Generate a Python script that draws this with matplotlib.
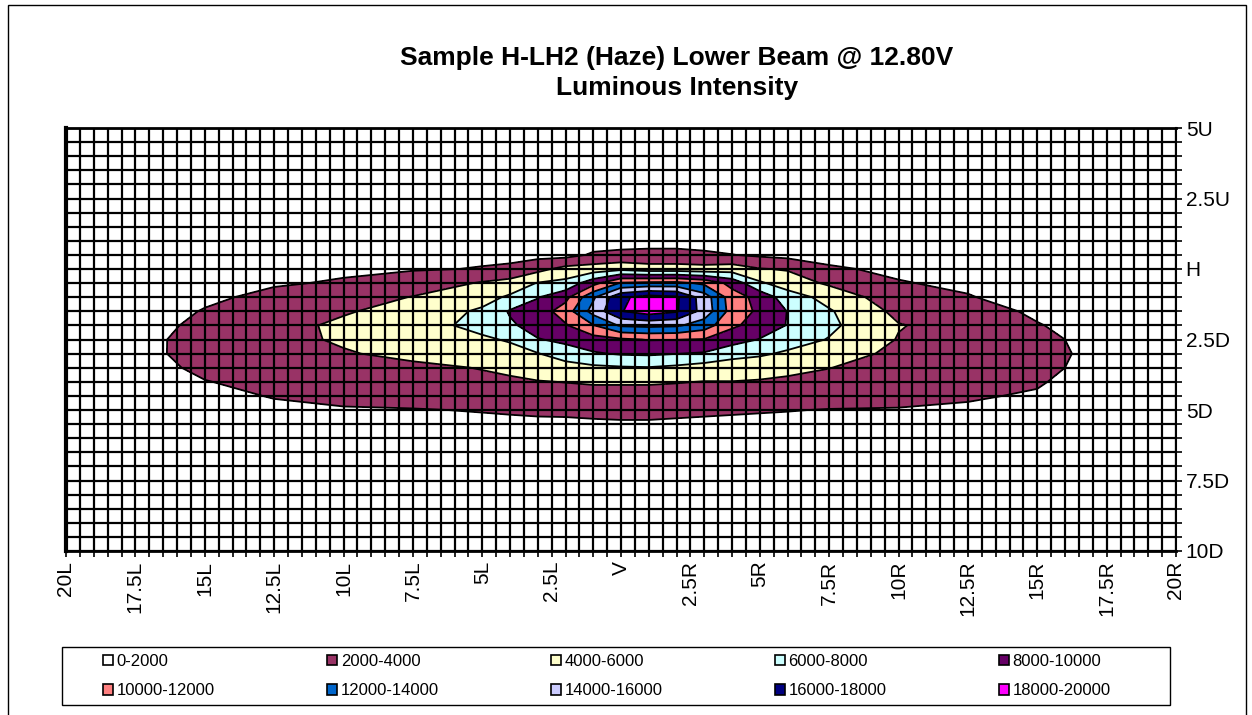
import matplotlib

matplotlib.use("Agg")
import matplotlib.pyplot as plt
import numpy as np
from matplotlib.patches import Patch, Rectangle

plt.rcParams["font.family"] = ["Liberation Sans", "DejaVu Sans"]

# horizontal angle (L negative, R positive) and vertical angle (U positive, D negative)
H_DEG = [-20, -17.5, -15, -12.5, -10, -7.5, -5, -4, -3, -2, -1, 0, 1, 2, 3, 4, 5, 6, 7.5, 10, 12.5, 15, 17.5, 20]
V_DEG = [5, 2.5, 1, 0.5, 0, -0.5, -1, -1.5, -2, -2.5, -3, -3.5, -4, -4.5, -5, -6, -7.5, -10]

# candela, one list per horizontal angle, read from 5U down to 10D
CANDELA_BY_H = [
    [100, 200, 300, 350, 400, 500, 600, 700, 800, 850, 900, 850, 800, 700, 600, 450, 300, 150],  # 20L
    [150, 300, 450, 550, 650, 800, 950, 1100, 1300, 1450, 1500, 1400, 1250, 1050, 900, 650, 400, 200],  # 17.5L
    [200, 500, 800, 1000, 1200, 1400, 1700, 2100, 2400, 2650, 2600, 2300, 1950, 1600, 1300, 900, 500, 250],  # 15L
    [300, 700, 1200, 1400, 1650, 1850, 2400, 2900, 3300, 3300, 3100, 2800, 2400, 2080, 1700, 1100, 600, 300],  # 12.5L
    [350, 800, 1300, 1550, 1750, 2150, 2800, 3800, 4400, 4300, 3800, 3200, 2700, 2300, 1900, 1300, 700, 350],  # 10L
    [400, 900, 1400, 1650, 1900, 2700, 4100, 4800, 5150, 5000, 4600, 3500, 2900, 2400, 1950, 1400, 750, 400],  # 7.5L
    [450, 1000, 1500, 1800, 2050, 4200, 5300, 6300, 6600, 5700, 5000, 4100, 3500, 2900, 2050, 1500, 800, 450],  # 5L
    [500, 1000, 1450, 1700, 2200, 4800, 6300, 8200, 7700, 6200, 5300, 4400, 3700, 3000, 2100, 1500, 850, 500],  # 4L
    [500, 1000, 1300, 1400, 3400, 6100, 7900, 8900, 8800, 7900, 5900, 5000, 3900, 3100, 2150, 1500, 900, 500],  # 3L
    [500, 1000, 1200, 1350, 4650, 6550, 9400, 11000, 9800, 8400, 7200, 5000, 4050, 3200, 2200, 1400, 950, 500],  # 2L
    [500, 1000, 1100, 2250, 4900, 9300, 13700, 14750, 11900, 9200, 7800, 5600, 4200, 3300, 2250, 1450, 1000, 550],  # 1L
    [500, 1000, 1500, 2300, 5500, 12200, 17600, 17900, 14300, 9700, 8200, 5800, 4200, 3300, 2300, 1450, 1000, 550],  # V
    [500, 1000, 1500, 2400, 4900, 12500, 18800, 19000, 14500, 10100, 8300, 5900, 4200, 3300, 2300, 1450, 1000, 550],  # 1R
    [500, 1000, 1500, 2400, 4900, 12600, 18300, 18200, 14300, 10050, 8050, 5600, 4100, 3200, 2250, 1400, 950, 550],  # 2R
    [450, 950, 1300, 2300, 4700, 11600, 15000, 15200, 13000, 9900, 7800, 5100, 3950, 3100, 2200, 1350, 900, 500],  # 3R
    [450, 900, 1000, 2050, 5000, 9300, 11000, 11200, 10300, 9000, 6500, 5250, 3950, 3050, 2150, 1300, 850, 500],  # 4R
    [400, 850, 1000, 1700, 4100, 6300, 9300, 9600, 9300, 7900, 6300, 4800, 3850, 2900, 2100, 1250, 800, 450],  # 5R
    [400, 800, 900, 1400, 3850, 5000, 7000, 7950, 7900, 6900, 5700, 4600, 3600, 2800, 2050, 1200, 750, 450],  # 6R
    [350, 700, 1000, 1500, 2200, 3700, 5300, 6200, 6400, 5900, 5000, 4050, 3300, 2600, 1950, 1150, 700, 400],  # 7.5R
    [300, 600, 1000, 1300, 1700, 2100, 2800, 3500, 4100, 3900, 3500, 3000, 2600, 2250, 1950, 1100, 650, 350],  # 10R
    [250, 450, 800, 1000, 1300, 1700, 2100, 2800, 3300, 3300, 3100, 2800, 2450, 2150, 1800, 1000, 600, 300],  # 12.5R
    [200, 300, 550, 650, 800, 1000, 1300, 1700, 2100, 2500, 2700, 2500, 2150, 1850, 1500, 900, 500, 250],  # 15R
    [150, 250, 400, 500, 600, 700, 850, 1000, 1150, 1250, 1300, 1250, 1150, 1000, 900, 650, 400, 200],  # 17.5R
    [100, 200, 300, 350, 400, 500, 600, 700, 800, 850, 900, 850, 800, 700, 600, 450, 300, 150],  # 20R
]

BAND_EDGES = [0, 2000, 4000, 6000, 8000, 10000, 12000, 14000, 16000, 18000, 20000]
BAND_LABELS = [
    "0-2000", "2000-4000", "4000-6000", "6000-8000", "8000-10000",
    "10000-12000", "12000-14000", "14000-16000", "16000-18000", "18000-20000",
]
BAND_COLORS = [
    "#FFFFFF", "#993366", "#FFFFCC", "#CCFFFF", "#660066",
    "#FF8080", "#0066CC", "#CCCCFF", "#000080", "#FF00FF",
]

X_TICKS = [-20, -17.5, -15, -12.5, -10, -7.5, -5, -2.5, 0, 2.5, 5, 7.5, 10, 12.5, 15, 17.5, 20]
X_LABELS = ["20L", "17.5L", "15L", "12.5L", "10L", "7.5L", "5L", "2.5L", "V",
            "2.5R", "5R", "7.5R", "10R", "12.5R", "15R", "17.5R", "20R"]
Y_TICKS = [5, 2.5, 0, -2.5, -5, -7.5, -10]
Y_LABELS = ["5U", "2.5U", "H", "2.5D", "5D", "7.5D", "10D"]

W, H = 1252, 715
fig = plt.figure(figsize=(W / 100, H / 100), dpi=100)
ax = fig.add_axes([66 / W, 1 - 551 / H, 1110 / W, 423 / H])

cd = np.array(CANDELA_BY_H).T
ax.contourf(H_DEG, V_DEG, cd, levels=BAND_EDGES, colors=BAND_COLORS, zorder=1)
ax.contour(H_DEG, V_DEG, cd, levels=BAND_EDGES[1:-1], colors="black", linewidths=1.3, zorder=2)

ax.set_xlim(-20, 20)
ax.set_ylim(-10, 5)
ax.set_xticks(X_TICKS)
ax.set_xticklabels(X_LABELS, rotation=90, fontsize=15)
ax.set_xticks(np.arange(-20, 20.01, 0.5), minor=True)
ax.yaxis.tick_right()
ax.set_yticks(Y_TICKS)
ax.set_yticklabels(Y_LABELS, fontsize=15)
ax.set_yticks(np.arange(-10, 5.01, 0.5), minor=True)
ax.tick_params(which="both", direction="out", length=4, width=1.2, color="black", pad=3)
ax.tick_params(axis="x", which="both", bottom=True, top=False)
ax.tick_params(axis="y", which="both", right=True, left=False)

ax.set_axisbelow(False)
ax.grid(True, which="both", color="black", linewidth=1.6)
for side, lw in (("left", 3.0), ("top", 2.0), ("right", 1.5), ("bottom", 2.0)):
    ax.spines[side].set_linewidth(lw)
    ax.spines[side].set_color("black")
    ax.spines[side].set_zorder(5)

fig.text(677 / W, 1 - 58 / H, "Sample H-LH2 (Haze) Lower Beam @ 12.80V",
         ha="center", va="center", fontsize=19, fontweight="bold")
fig.text(677 / W, 1 - 88 / H, "Luminous Intensity",
         ha="center", va="center", fontsize=19, fontweight="bold")

# legend box drawn separately so it spans the plot width like the original
fig.patches.append(Rectangle((62 / W, 1 - 705 / H), 1108 / W, 58 / H, transform=fig.transFigure,
                             facecolor="white", edgecolor="black", linewidth=1.0, zorder=0))
handles = [Patch(facecolor=c, edgecolor="black", linewidth=1.2) for c in BAND_COLORS]
order = [0, 5, 1, 6, 2, 7, 3, 8, 4, 9]
fig.legend([handles[i] for i in order], [BAND_LABELS[i] for i in order],
           loc="center", bbox_to_anchor=(607 / W, 1 - 676 / H), ncol=5, frameon=False,
           fontsize=12, handlelength=0.6, handleheight=0.6, handletextpad=0.2,
           columnspacing=6.75, labelspacing=0.85)

# outer chart border
fig.patches.append(Rectangle((8 / W, -0.02), 1238 / W, 1.02 - 5 / H, transform=fig.transFigure,
                             facecolor="none", edgecolor="black", linewidth=1.0))

fig.savefig("out.png", dpi=100)
plt.close(fig)
